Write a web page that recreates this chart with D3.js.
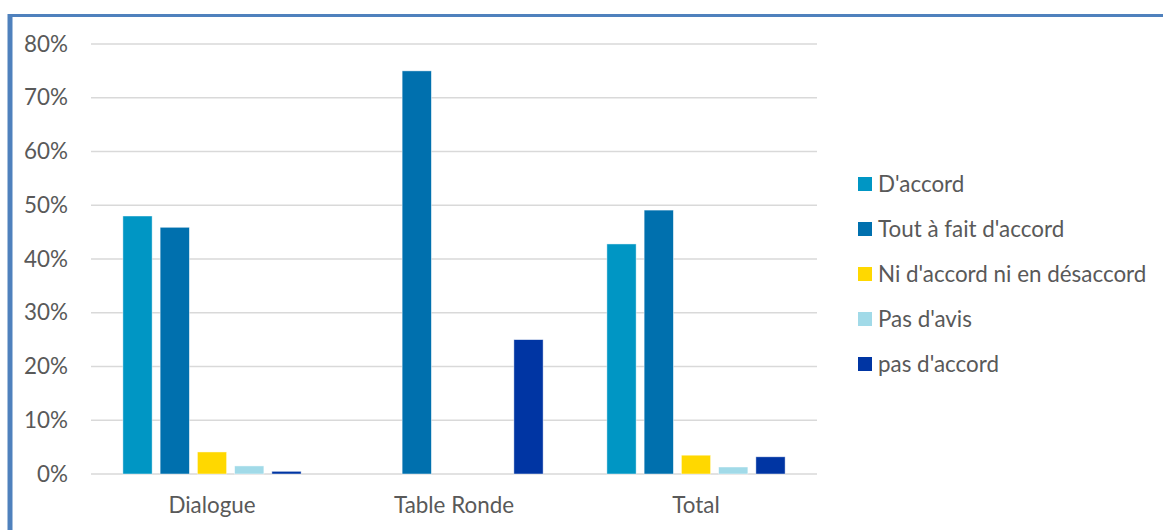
<!DOCTYPE html>
<html>
<head>
<meta charset="utf-8">
<script src="https://cdn.jsdelivr.net/npm/d3@7"></script>
<style>
  html, body { margin: 0; padding: 0; background: #fff; }
  svg { display: block; }
  text { font-family: Lato, "Liberation Sans", sans-serif; fill: #595959; }
</style>
</head>
<body>
<svg id="chart" width="1163" height="530"></svg>
<script>
// Survey responses by session type (share of respondents)
const categories = ["Dialogue", "Table Ronde", "Total"];
const seriesNames = ["D'accord", "Tout à fait d'accord", "Ni d'accord ni en désaccord", "Pas d'avis", "pas d'accord"];
const seriesColors = ["#0096c4", "#0070ae", "#ffd800", "#a1dae8", "#0035a3"];
const dAccord      = [0.480, 0.00, 0.428];
const toutAFait    = [0.459, 0.75, 0.491];
const niNi         = [0.041, 0.00, 0.035];
const pasDAvis     = [0.015, 0.00, 0.013];
const pasDAccord   = [0.005, 0.25, 0.032];
const yTicks = [0, 0.1, 0.2, 0.3, 0.4, 0.5, 0.6, 0.7, 0.8];

const seriesValues = [dAccord, toutAFait, niNi, pasDAvis, pasDAccord];
const fontSize = 22.4;

const svg = d3.select("#chart");

// Outer frame: blue rule along top and left edges
svg.append("line").attr("x1", 8).attr("x2", 1163).attr("y1", 15.5).attr("y2", 15.5)
  .attr("stroke", "#4f81bd").attr("stroke-width", 3);
svg.append("line").attr("x1", 10).attr("x2", 10).attr("y1", 14).attr("y2", 530)
  .attr("stroke", "#4f81bd").attr("stroke-width", 5);

const plot = { left: 91, right: 817, top: 44, bottom: 474 };

const x0 = d3.scaleBand().domain(categories).range([plot.left, plot.right]).padding(0);
const x1 = d3.scaleBand().domain(d3.range(seriesNames.length))
  .range([0, x0.bandwidth()]).paddingInner(0.215).paddingOuter(0.856);
const y = d3.scaleLinear().domain([0, 0.8]).range([plot.bottom, plot.top]);

// Horizontal gridlines
svg.append("g").selectAll("line").data(yTicks).join("line")
  .attr("x1", plot.left).attr("x2", plot.right)
  .attr("y1", d => y(d)).attr("y2", d => y(d))
  .attr("stroke", "#d9d9d9").attr("stroke-width", 1.5);

// Y axis labels
const yAxis = d3.axisLeft(y).tickValues(yTicks).tickFormat(d3.format(".0%")).tickSize(0).tickPadding(0);
const gy = svg.append("g").attr("transform", `translate(68,0)`).call(yAxis);
gy.select(".domain").remove();
gy.selectAll("text").attr("font-size", fontSize).attr("fill", "#595959")
  .style("font-family", "Lato, 'Liberation Sans', sans-serif");

// X axis labels
const xAxis = d3.axisBottom(x0).tickSize(0).tickPadding(0);
const gx = svg.append("g").attr("transform", `translate(0,${plot.bottom})`).call(xAxis);
gx.select(".domain").remove();
gx.selectAll("text").attr("font-size", fontSize).attr("fill", "#595959").attr("dy", 0).attr("y", 39)
  .style("font-family", "Lato, 'Liberation Sans', sans-serif");

// Bars
const groups = svg.append("g").selectAll("g").data(categories).join("g")
  .attr("transform", c => `translate(${x0(c)},0)`);
groups.selectAll("rect")
  .data((c, ci) => seriesValues.map((vals, si) => ({ si, v: vals[ci] })).filter(d => d.v > 0))
  .join("rect")
  .attr("x", d => x1(d.si))
  .attr("width", x1.bandwidth())
  .attr("y", d => y(d.v))
  .attr("height", d => y(0) - y(d.v))
  .attr("fill", d => seriesColors[d.si])
  .attr("stroke", "#ffffff").attr("stroke-opacity", 0.6).attr("stroke-width", 0.75);

// Legend
const legend = svg.append("g").attr("transform", "translate(858,0)");
const rowY = d3.scaleLinear().domain([0, 4]).range([184, 364]);
const rows = legend.selectAll("g").data(seriesNames).join("g")
  .attr("transform", (d, i) => `translate(0,${rowY(i)})`);
rows.append("rect").attr("x", 0).attr("y", -7).attr("width", 14).attr("height", 14)
  .attr("fill", (d, i) => seriesColors[i]);
rows.append("text").attr("x", 20).attr("y", 0).attr("dy", "0.35em")
  .attr("font-size", fontSize).text(d => d);
</script>
</body>
</html>
